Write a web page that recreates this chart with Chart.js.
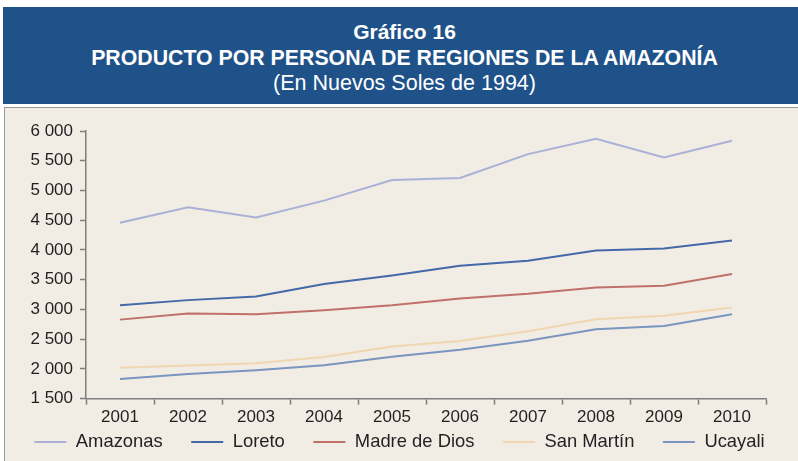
<!DOCTYPE html>
<html>
<head>
<meta charset="utf-8">
<script src="https://cdn.jsdelivr.net/npm/chart.js@4/dist/chart.umd.min.js"></script>
<style>
  body { margin: 0; background: #fff; width: 798px; height: 461px; overflow: hidden; font-family: "Liberation Sans", Arial, sans-serif; }
  .header { position: absolute; left: 3px; top: 7px; width: 795px; height: 97px; background: #1f5289; color: #fff; text-align: center; }
  .header div { position: absolute; left: 8px; right: 0; font-size: 21px; line-height: normal; white-space: nowrap; }
  .header .l1 { top: 13px; font-weight: bold; }
  .header .l2 { top: 39px; font-weight: bold; font-size: 21.3px; }
  .header .l3 { top: 64px; font-size: 21.5px; }
  .panel { position: absolute; left: 4px; top: 107px; width: 794px; height: 354px; overflow: hidden; background: #f1ede5; border-left: 1px solid #9c9a96; border-top: 1px solid #9c9a96; }
  .panel canvas { position: absolute; left: 0; top: 0; }
</style>
</head>
<body>
<div class="header">
  <div class="l1">Gráfico 16</div>
  <div class="l2">PRODUCTO POR PERSONA DE REGIONES DE LA AMAZONÍA</div>
  <div class="l3">(En Nuevos Soles de 1994)</div>
</div>
<div class="panel">
  <canvas id="myChart" width="793" height="353"></canvas>
</div>
<script>
const years = ['2001', '2002', '2003', '2004', '2005', '2006', '2007', '2008', '2009', '2010'];
const amazonas = [4457, 4716, 4547, 4829, 5177, 5211, 5611, 5870, 5556, 5836];
const loreto = [3071, 3156, 3217, 3426, 3571, 3735, 3820, 3989, 4023, 4158];
const madreDeDios = [2828, 2929, 2919, 2987, 3071, 3183, 3262, 3369, 3397, 3595];
const sanMartin = [2017, 2057, 2096, 2198, 2378, 2468, 2632, 2835, 2895, 3031];
const ucayali = [1831, 1915, 1978, 2062, 2203, 2321, 2473, 2666, 2721, 2919];
const yTicks = [1500, 2000, 2500, 3000, 3500, 4000, 4500, 5000, 5500, 6000];

const textColor = '#231f20';
const axisColor = '#7f7f7f';

function series(label, data, color) {
  return {
    label: label,
    data: data,
    borderColor: color,
    backgroundColor: color,
    borderWidth: 2,
    pointRadius: 0,
    fill: false,
    tension: 0,
  };
}

// one row legend under the x axis, spaced like the original (built from the datasets)
const bottomLegend = {
  id: 'bottomLegend',
  afterDraw(chart, args, opts) {
    const c = chart.ctx;
    c.save();
    c.font = opts.fontSize + 'px ' + opts.fontFamily;
    c.textBaseline = 'middle';
    const items = chart.data.datasets.map((ds) => ({
      text: ds.label,
      color: ds.borderColor,
      width: opts.lineLength + opts.textGap + c.measureText(ds.label).width,
    }));
    const total = items.reduce((s, it) => s + it.width, 0) + opts.itemGap * (items.length - 1);
    let x = opts.centerX - total / 2;
    const y = chart.chartArea.bottom + opts.offsetY;
    for (const it of items) {
      c.strokeStyle = it.color;
      c.lineWidth = 2;
      c.beginPath();
      c.moveTo(x, y);
      c.lineTo(x + opts.lineLength, y);
      c.stroke();
      c.fillStyle = opts.color;
      c.fillText(it.text, x + opts.lineLength + opts.textGap, y);
      x += it.width + opts.itemGap;
    }
    c.restore();
  },
};

const ctx = document.getElementById('myChart').getContext('2d');
const myChart = new Chart(ctx, {
  type: 'line',
  data: {
    labels: years,
    datasets: [
      series('Amazonas', amazonas, '#aab0d6'),
      series('Loreto', loreto, '#4468a8'),
      series('Madre de Dios', madreDeDios, '#c0706b'),
      series('San Martín', sanMartin, '#f0d6b1'),
      series('Ucayali', ucayali, '#7a95be'),
    ],
  },
  plugins: [bottomLegend],
  options: {
    responsive: false,
    animation: false,
    layout: {
      padding: { top: 23, right: 32, left: 0, bottom: 30 },
    },
    plugins: {
      tooltip: { enabled: false },
      legend: { display: false },
      bottomLegend: {
        centerX: 394.5,
        offsetY: 43.5,
        lineLength: 32,
        textGap: 9.5,
        itemGap: 28.5,
        fontSize: 18.4,
        fontFamily: 'Liberation Sans',
        color: textColor,
      },
    },
    scales: {
      x: {
        offset: true,
        grid: { drawOnChartArea: false, offset: true, tickLength: 6, color: axisColor, tickWidth: 1.5 },
        border: { color: axisColor, width: 1.5 },
        ticks: { color: textColor, padding: 3, maxRotation: 0, font: { family: 'Liberation Sans', size: 17 } },
      },
      y: {
        min: 1500,
        max: 6000,
        afterFit: (scale) => { scale.width = 81; },
        afterBuildTicks: (scale) => { scale.ticks = yTicks.map((v) => ({ value: v })); },
        grid: { drawOnChartArea: false, tickLength: 6, color: axisColor, tickWidth: 1.5 },
        border: { color: axisColor, width: 1.5 },
        ticks: {
          color: textColor,
          padding: 7,
          font: { family: 'Liberation Sans', size: 17 },
          callback: (v) => String(v).replace(/\B(?=(\d{3})+(?!\d))/g, ' '),
        },
      },
    },
  },
});
</script>
</body>
</html>
